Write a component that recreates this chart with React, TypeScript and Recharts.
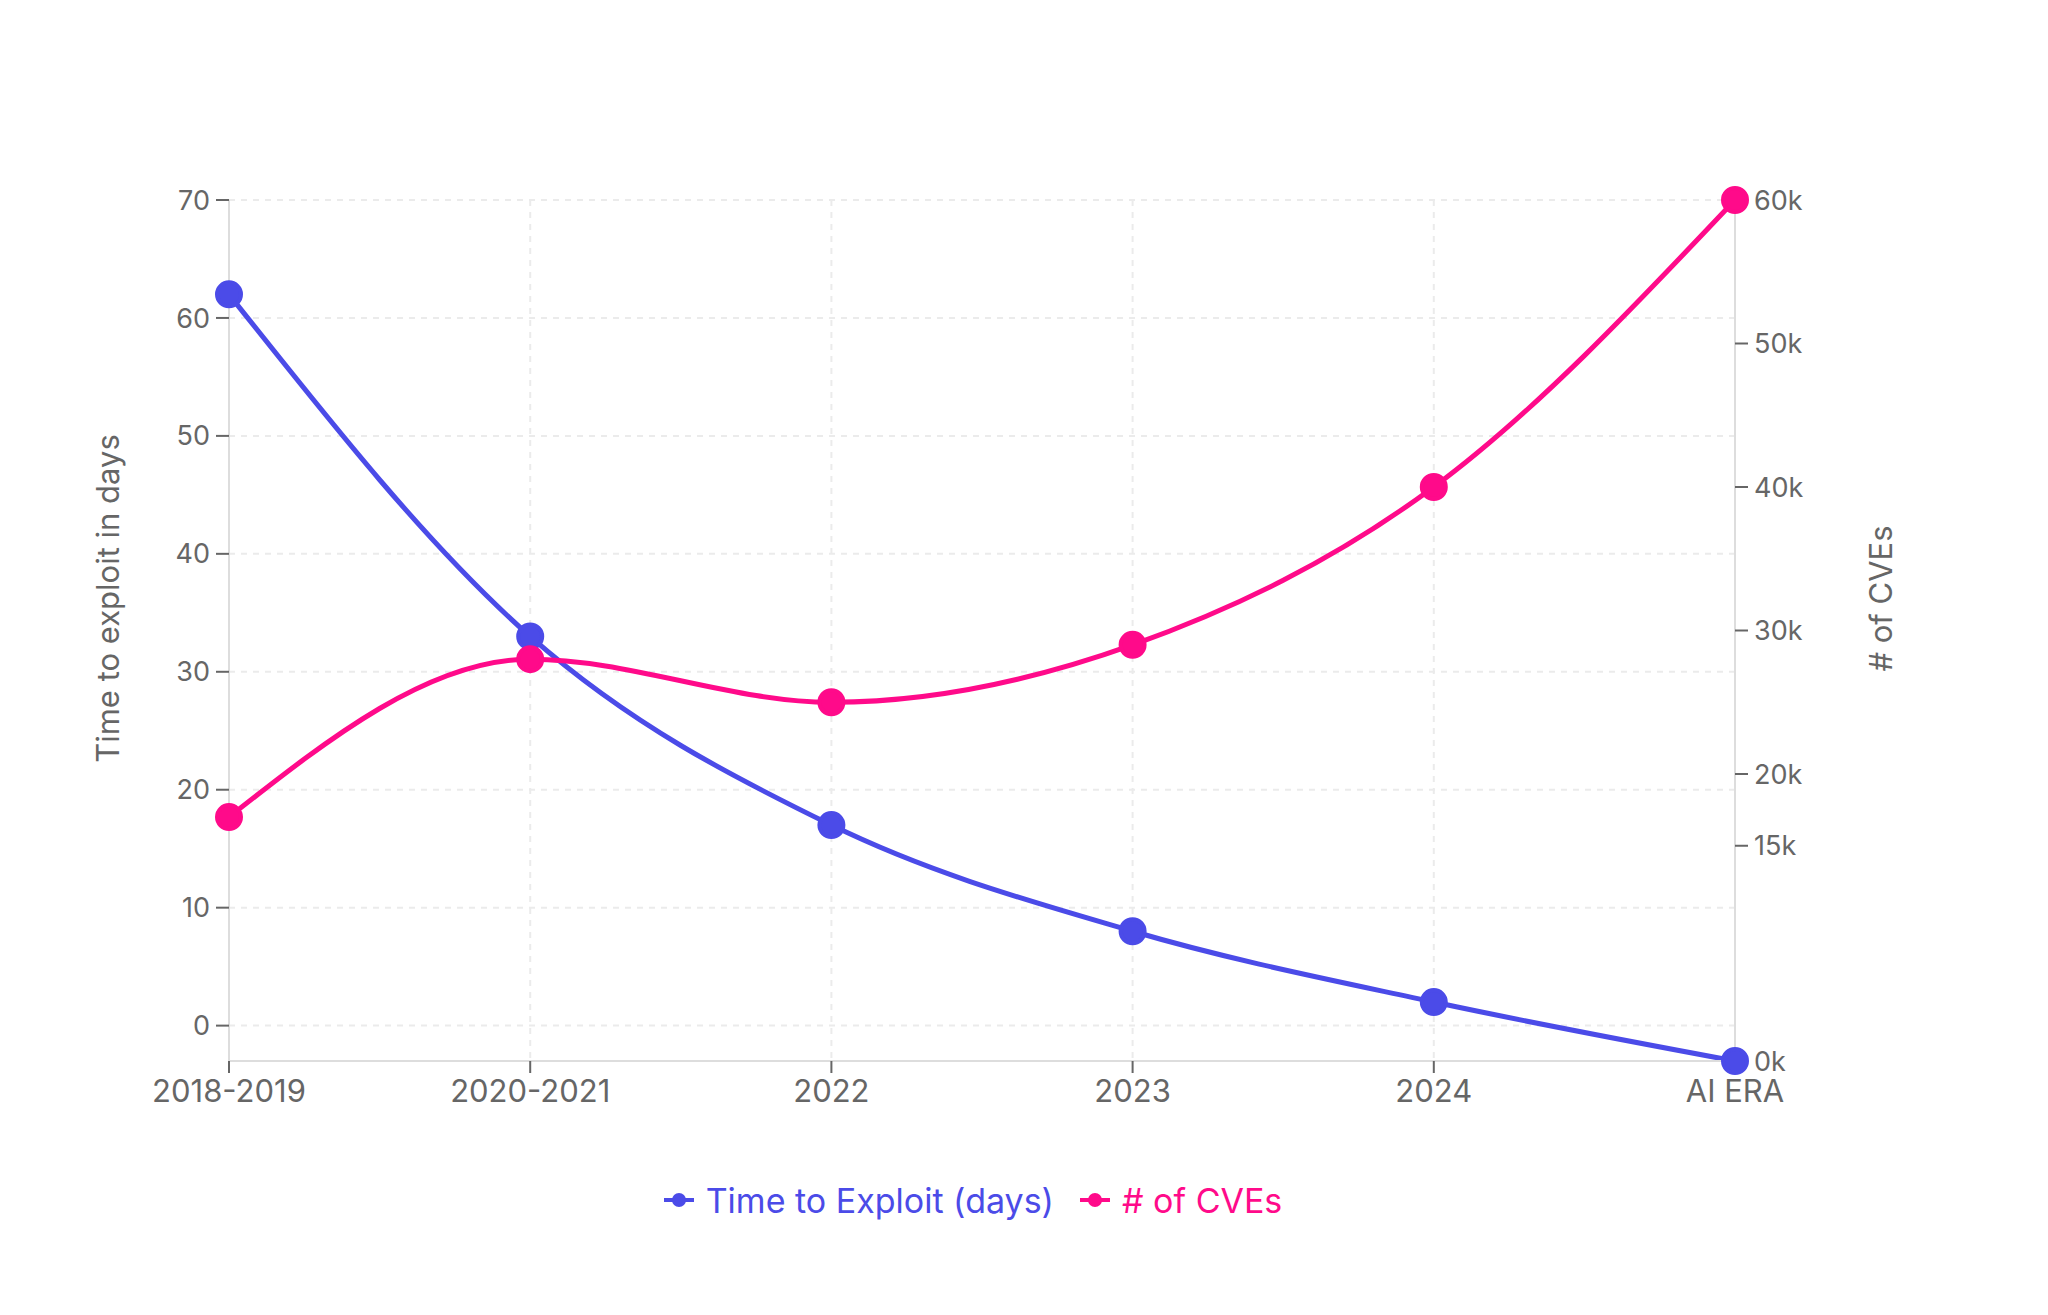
import {
  LineChart,
  Line,
  XAxis,
  YAxis,
  CartesianGrid,
  Legend,
  Label,
} from "recharts";

const periods = ["2018-2019", "2020-2021", "2022", "2023", "2024", "AI ERA"];
const daysToExploit = [62, 33, 17, 8, 2, -3];
const cveCounts = [17000, 28000, 25000, 29000, 40000, 60000];
const leftTicks = [0, 10, 20, 30, 40, 50, 60, 70];
const rightTicks = [0, 15000, 20000, 30000, 40000, 50000, 60000];
const seriesOrder = ["days", "cves"];

const BLUE = "#4b4be8";
const PINK = "#ff0a8a";
const GREY = "#666";

const chartData = periods.map((period, i) => ({
  period,
  days: daysToExploit[i],
  cves: cveCounts[i],
}));

function AxisTitle(props: any) {
  const { viewBox, value, shift } = props;
  const cx = viewBox.x + shift;
  const cy = viewBox.y + viewBox.height / 2 - 32;
  return (
    <text
      x={cx}
      y={cy}
      transform={`rotate(-90, ${cx}, ${cy})`}
      textAnchor="middle"
      dominantBaseline="central"
      fill={GREY}
      fontSize={31}
    >
      {value}
    </text>
  );
}

function LegendItems(props: any) {
  const items = [...(props.payload || [])].sort(
    (a: any, b: any) => seriesOrder.indexOf(a.dataKey) - seriesOrder.indexOf(b.dataKey)
  );
  return (
    <div
      style={{
        display: "flex",
        justifyContent: "center",
        alignItems: "center",
        height: 50,
        gap: 26,
      }}
    >
      {items.map((it: any) => (
        <div key={it.value} style={{ display: "flex", alignItems: "center", color: it.color }}>
          <svg width={30} height={30} style={{ marginRight: 12 }}>
            <line x1={0} y1={15} x2={30} y2={15} stroke={it.color} strokeWidth={4} />
            <circle cx={15} cy={15} r={7} fill={it.color} />
          </svg>
          <span style={{ fontSize: 34 }}>{it.value}</span>
        </div>
      ))}
    </div>
  );
}

export default function App() {
  const yTick = { fill: GREY, fontSize: 27 };
  const xTick = { fill: GREY, fontSize: 31 };
  return (
    <div
      style={{
        position: "absolute",
        left: 0,
        top: 0,
        width: 2048,
        height: 1315,
        background: "#fff",
        fontFamily: "Inter, sans-serif",
      }}
    >
      <LineChart
        width={2048}
        height={1315}
        data={chartData}
        margin={{ top: 200, right: 122, left: 20, bottom: 90 }}
      >
        <CartesianGrid yAxisId="left" stroke="#ebebeb" strokeWidth={2} strokeDasharray="6 6" />
        <XAxis
          dataKey="period"
          height={114}
          tick={xTick}
          tickSize={12}
          tickMargin={7}
          axisLine={{ stroke: "#ddd", strokeWidth: 2 }}
          tickLine={{ stroke: GREY, strokeWidth: 2 }}
        />
        <YAxis
          yAxisId="left"
          width={209}
          domain={[-3, 70]}
          ticks={leftTicks}
          tick={yTick}
          tickSize={13}
          tickMargin={6}
          axisLine={{ stroke: "#ddd", strokeWidth: 2 }}
          tickLine={{ stroke: GREY, strokeWidth: 2 }}
        >
          <Label
            value="Time to exploit in days"
            content={(p: any) => <AxisTitle {...p} value="Time to exploit in days" shift={87} />}
          />
        </YAxis>
        <YAxis
          yAxisId="right"
          orientation="right"
          width={191}
          domain={[0, 60000]}
          ticks={rightTicks}
          tickFormatter={(v: number) => `${v / 1000}k`}
          tick={yTick}
          tickSize={13}
          tickMargin={6}
          axisLine={{ stroke: "#ddd", strokeWidth: 2 }}
          tickLine={{ stroke: GREY, strokeWidth: 2 }}
        >
          <Label
            value="# of CVEs"
            content={(p: any) => <AxisTitle {...p} value="# of CVEs" shift={145} />}
          />
        </YAxis>
        <Legend verticalAlign="bottom" height={50} content={<LegendItems />} />
        <Line
          yAxisId="left"
          type="monotone"
          dataKey="days"
          name="Time to Exploit (days)"
          stroke={BLUE}
          strokeWidth={5}
          dot={{ r: 12, fill: BLUE, stroke: BLUE, strokeWidth: 4 }}
          isAnimationActive={false}
        />
        <Line
          yAxisId="right"
          type="monotone"
          dataKey="cves"
          name="# of CVEs"
          stroke={PINK}
          strokeWidth={5}
          dot={{ r: 12, fill: PINK, stroke: PINK, strokeWidth: 4 }}
          isAnimationActive={false}
        />
      </LineChart>
    </div>
  );
}
